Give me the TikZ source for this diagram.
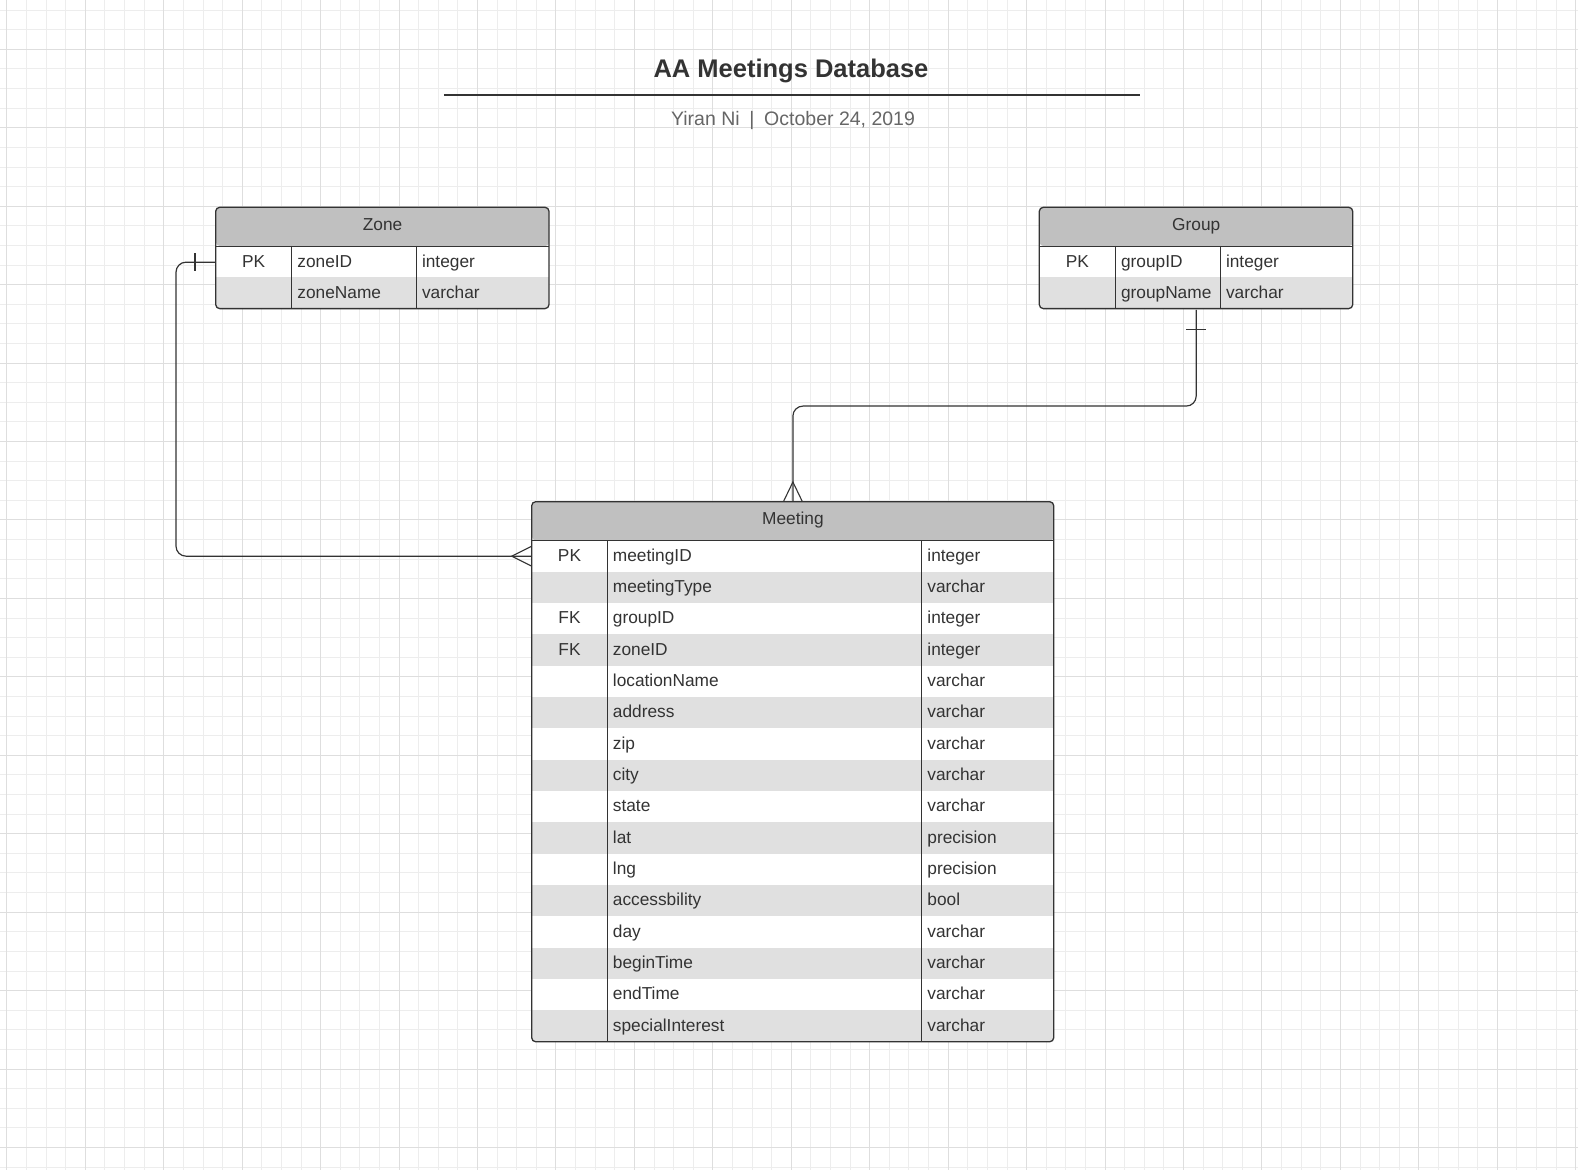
\documentclass[tikz,border=0pt]{standalone}
\usepackage{fontspec}
\setmainfont{Liberation Sans}
\definecolor{ink}{HTML}{333333}
\definecolor{subink}{HTML}{666666}
\definecolor{headgray}{HTML}{C0C0C0}
\definecolor{stripegray}{HTML}{E0E0E0}
\definecolor{gridminor}{HTML}{EDEDED}
\definecolor{gridmajor}{HTML}{DEDEDE}
\tikzset{minorline/.style={gridminor, line width=0.9pt},
         majorline/.style={gridmajor, line width=1pt},
         frame/.style={draw=ink, line width=1.3pt, rounded corners=4pt},
         divider/.style={draw=ink, line width=1.2pt},
         celltext/.style={inner sep=0pt, text height=11.5pt, text depth=1.5pt,
         text=ink, font=\fontsize{17.3}{20}\selectfont},
         headcell/.style={celltext, fill=headgray, anchor=north west,
         minimum height=38.6pt, text height=10pt, text depth=3pt},
         rowcell/.style={inner sep=0pt, anchor=north west,
         minimum height=31.34pt, minimum width=#1},
         link/.style={draw=ink, line width=1.2pt, rounded corners=10pt},
         crow/.style={draw=ink, line width=1.1pt}}
\begin{document}
\begin{tikzpicture}[x=1pt, y=-1pt]
      \useasboundingbox (0,0) rectangle (1578,1170);
      % grid
      \foreach \i in {0,...,80} \draw[minorline] ({6.86+19.61*\i},0) -- ++(0,1170);
      \foreach \i in {0,...,59} \draw[minorline] (0,{10.08+19.61*\i}) -- ++(1578,0);
      \foreach \i in {0,...,20} \draw[majorline] ({6.86+78.44*\i},0) -- ++(0,1170);
      \foreach \i in {0,...,14} \draw[majorline] (0,{49.3+78.44*\i}) -- ++(1578,0);

      % title
      \node[anchor=base, inner sep=0pt, text=ink, font=\fontsize{25.5}{30}\selectfont\bfseries] (title) at (791,77.2) {AA Meetings Database};
      \draw[ink, line width=1.8pt] (443.8,94.6) -- (1140.3,94.6);
      \node[anchor=base, inner sep=0pt, text=subink, font=\fontsize{19.5}{24}\selectfont] (byline) at (793,125.7) {Yiran Ni\hspace{.5em}|\hspace{.5em}October 24, 2019};

      % Zone
      \begin{scope}[rounded corners=4pt]
        \clip (215.7,207.3) rectangle (549,308.6);
        \fill[white] (215.7,207.3) rectangle (549,308.6);
        \node[headcell, minimum width=333.3pt] (zone) at (215.7,207.3) {Zone};
        \fill[stripegray, sharp corners] (215.7,277.25) rectangle (549,308.6);
      \end{scope}
      \node[rowcell=333.3pt] (zone-1) at (zone.south west) {};
      \node[rowcell=333.3pt] (zone-2) at (zone-1.south west) {};
      \draw[frame] (215.7,207.3) rectangle (549,308.6);
      \draw[divider] (zone.south west) -- (zone.south east) (291.7,245.9) -- (291.7,308.6) (416.3,245.9) -- (416.3,308.6);
      \node[celltext] (zone-1-k) at ([xshift=38pt]zone-1.west) {PK};
      \node[celltext, anchor=west] (zone-1-f) at ([xshift=81.5pt]zone-1.west) {zoneID};
      \node[celltext, anchor=west] (zone-1-t) at ([xshift=206.1pt]zone-1.west) {integer};
      \node[celltext, anchor=west] (zone-2-f) at ([xshift=81.5pt]zone-2.west) {zoneName};
      \node[celltext, anchor=west] (zone-2-t) at ([xshift=206.1pt]zone-2.west) {varchar};

      % Group
      \begin{scope}[rounded corners=4pt]
        \clip (1039.3,207.3) rectangle (1352.7,308.6);
        \fill[white] (1039.3,207.3) rectangle (1352.7,308.6);
        \node[headcell, minimum width=313.4pt] (group) at (1039.3,207.3) {Group};
        \fill[stripegray, sharp corners] (1039.3,277.25) rectangle (1352.7,308.6);
      \end{scope}
      \node[rowcell=313.4pt] (group-1) at (group.south west) {};
      \node[rowcell=313.4pt] (group-2) at (group-1.south west) {};
      \draw[frame] (1039.3,207.3) rectangle (1352.7,308.6);
      \draw[divider] (group.south west) -- (group.south east) (1115.3,245.9) -- (1115.3,308.6) (1220.3,245.9) -- (1220.3,308.6);
      \node[celltext] (group-1-k) at ([xshift=38pt]group-1.west) {PK};
      \node[celltext, anchor=west] (group-1-f) at ([xshift=81.5pt]group-1.west) {groupID};
      \node[celltext, anchor=west] (group-1-t) at ([xshift=186.5pt]group-1.west) {integer};
      \node[celltext, anchor=west] (group-2-f) at ([xshift=81.5pt]group-2.west) {groupName};
      \node[celltext, anchor=west] (group-2-t) at ([xshift=186.5pt]group-2.west) {varchar};

      % Meeting
      \begin{scope}[rounded corners=4pt]
        \clip (531.7,501.7) rectangle (1053.7,1041.74);
        \fill[white] (531.7,501.7) rectangle (1053.7,1041.74);
        \node[headcell, minimum width=522pt] (meeting) at (531.7,501.7) {Meeting};
        \foreach \i in {2,4,...,16}
          \fill[stripegray, sharp corners] (531.7,{540.3+31.34*(\i-1)}) rectangle ++(522,31.34);
      \end{scope}
      \foreach \k/\f/\t [count=\i] in {PK/meetingID/integer, {}/meetingType/varchar,
          FK/groupID/integer, FK/zoneID/integer, {}/locationName/varchar,
          {}/address/varchar, {}/zip/varchar, {}/city/varchar, {}/state/varchar,
          {}/lat/precision, {}/lng/precision, {}/accessbility/bool, {}/day/varchar,
          {}/beginTime/varchar, {}/endTime/varchar, {}/specialInterest/varchar} {
        \node[rowcell=522pt] (meet-\i) at (531.7,{540.3+31.34*(\i-1)}) {};
        \node[celltext] (meet-\i-k) at ([xshift=37.8pt]meet-\i.west) {\k};
        \node[celltext, anchor=west] (meet-\i-f) at ([xshift=81pt]meet-\i.west) {\f};
        \node[celltext, anchor=west] (meet-\i-t) at ([xshift=395.5pt]meet-\i.west) {\t};
      }
      \draw[frame] (531.7,501.7) rectangle (1053.7,1041.74);
      \draw[divider] (meeting.south west) -- (meeting.south east) (607.3,540.3) -- (607.3,1041.74) (921.7,540.3) -- (921.7,1041.74);

      % relations
      \draw[link] (zone-1.west) -- ++(-39.7,0) |- (meet-1.west);
      \draw[crow] (zone-1.west) ++(-20.7,-9) -- ++(0,18);
      \draw[crow] ([yshift=10pt]meet-1.west) -- ++(-20,10) -- ++(20,10);
      \draw[link] (group-2.south) -- ++(0,96.3) -| (meeting.north);
      \draw[crow] (group-2.south) ++(-10,19.7) -- ++(20,0);
      \draw[crow] ([xshift=-9.5pt]meeting.north) -- ++(9.5,-19.7) -- ++(9.5,19.7);
\end{tikzpicture}
\end{document}
